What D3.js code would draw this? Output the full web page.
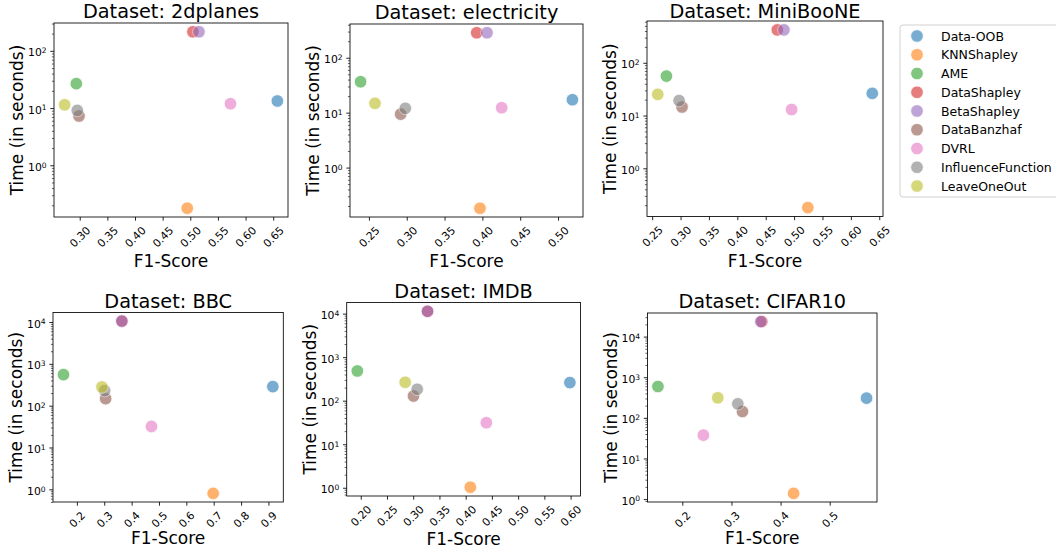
<!DOCTYPE html>
<html>
<head>
<meta charset="utf-8">
<script src="https://cdn.jsdelivr.net/npm/d3@7"></script>
<style>
  html, body { margin: 0; padding: 0; background: #ffffff; }
  svg { display: block; font-family: "DejaVu Sans", sans-serif; }
</style>
</head>
<body>
<svg id="chart" width="1056" height="550"></svg>
<script>
// ---------- data ----------
const methods = ["Data-OOB", "KNNShapley", "AME", "DataShapley", "BetaShapley",
                 "DataBanzhaf", "DVRL", "InfluenceFunction", "LeaveOneOut"];
const colors = ["#1f77b4", "#ff7f0e", "#2ca02c", "#d62728", "#9467bd",
                "#8c564b", "#e377c2", "#7f7f7f", "#bcbd22"];
const datasets = ["2dplanes", "electricity", "MiniBooNE", "BBC", "IMDB", "CIFAR10"];

const f1_2dplanes    = [0.6575, 0.4945, 0.2938, 0.5047, 0.5157, 0.2987, 0.5727, 0.2956, 0.2727];
const time_2dplanes  = [13.3, 0.178, 26.7, 215, 215, 7.25, 11.9, 9.1, 11.4];
const f1_electricity   = [0.519, 0.3968, 0.239, 0.3925, 0.4061, 0.292, 0.4255, 0.2981, 0.258];
const time_electricity = [17.2, 0.182, 36.6, 285, 285, 9.4, 12.3, 12.0, 14.8];
const f1_miniboone   = [0.6377, 0.5242, 0.2751, 0.4704, 0.4821, 0.3026, 0.4956, 0.2974, 0.2598];
const time_miniboone = [26.3, 0.18, 55.9, 420, 420, 14.5, 13.0, 19.2, 25.2];
const f1_bbc   = [0.916, 0.698, 0.151, 0.365, 0.364, 0.305, 0.4725, 0.3015, 0.2916];
const time_bbc = [285, 0.80, 552, 10500, 10500, 147, 31.9, 229, 280];
const f1_imdb   = [0.5986, 0.4089, 0.1935, 0.3273, 0.3273, 0.3005, 0.4394, 0.3076, 0.2847];
const time_imdb = [260, 1.03, 482, 11300, 11300, 128, 31.2, 183, 265];
const f1_cifar10   = [0.575, 0.4265, 0.1504, 0.362, 0.3597, 0.3224, 0.2429, 0.313, 0.2722];
const time_cifar10 = [305, 1.38, 590, 23400, 23400, 143, 37.5, 221, 311];

const xTicks_2dplanes    = [0.30, 0.35, 0.40, 0.45, 0.50, 0.55, 0.60, 0.65];
const xTicks_electricity = [0.25, 0.30, 0.35, 0.40, 0.45, 0.50];
const xTicks_miniboone   = [0.25, 0.30, 0.35, 0.40, 0.45, 0.50, 0.55, 0.60, 0.65];
const xTicks_bbc         = [0.2, 0.3, 0.4, 0.5, 0.6, 0.7, 0.8, 0.9];
const xTicks_imdb        = [0.20, 0.25, 0.30, 0.35, 0.40, 0.45, 0.50, 0.55, 0.60];
const xTicks_cifar10     = [0.2, 0.3, 0.4, 0.5];
const xTickDecimals      = [2, 2, 2, 1, 2, 1];

const f1Data   = [f1_2dplanes, f1_electricity, f1_miniboone, f1_bbc, f1_imdb, f1_cifar10];
const timeData = [time_2dplanes, time_electricity, time_miniboone, time_bbc, time_imdb, time_cifar10];
const xTickData = [xTicks_2dplanes, xTicks_electricity, xTicks_miniboone, xTicks_bbc, xTicks_imdb, xTicks_cifar10];

// ---------- layout (pixels) ----------
const panels = [
  {l: 54,    t: 23,    r: 288,   b: 217,   xlab: 267},
  {l: 350,   t: 24,    r: 583,   b: 217,   xlab: 267},
  {l: 647,   t: 21,    r: 883,   b: 216.5, xlab: 267},
  {l: 53,    t: 312.5, r: 283.3, b: 502,   xlab: 544},
  {l: 346.7, t: 302.5, r: 580.5, b: 496,   xlab: 545},
  {l: 647.5, t: 313,   r: 877,   b: 502,   xlab: 544}
];

const svg = d3.select("#chart");
const tickFont = 10.8, labelFont = 17, titleFont = 19.3;
const tickLen = 3.7, tickPad = 3.7;

panels.forEach((p, i) => {
  const f1 = f1Data[i], tm = timeData[i];
  const w = p.r - p.l, h = p.b - p.t;
  const g = svg.append("g").attr("transform", `translate(${p.l},${p.t})`);

  const xmin = d3.min(f1), xmax = d3.max(f1), xr = xmax - xmin;
  const x = d3.scaleLinear().domain([xmin - 0.05 * xr, xmax + 0.05 * xr]).range([0, w]);
  const lmin = Math.log10(d3.min(tm)), lmax = Math.log10(d3.max(tm)), lr = lmax - lmin;
  const y = d3.scaleLog().domain([Math.pow(10, lmin - 0.05 * lr), Math.pow(10, lmax + 0.05 * lr)]).range([h, 0]);

  // x axis
  const dec = xTickDecimals[i];
  const xa = g.append("g").attr("transform", `translate(0,${h})`)
    .call(d3.axisBottom(x).tickValues(xTickData[i]).tickSize(tickLen).tickPadding(tickPad)
      .tickFormat(d => d.toFixed(dec)));
  xa.select(".domain").remove();
  xa.selectAll(".tick line").attr("stroke", "#000").attr("stroke-width", 0.85);
  xa.selectAll(".tick text")
    .attr("fill", "#000").attr("font-size", tickFont).attr("font-family", "DejaVu Sans")
    .attr("y", null).attr("dy", null)
    .attr("text-anchor", "middle").attr("dominant-baseline", "central")
    .each(function () {
      const tw = this.getComputedTextLength();
      const half = (tw + tickFont * 1.1) * 0.7071 / 2;
      d3.select(this).attr("transform", `translate(0,${tickLen + tickPad + half}) rotate(-45)`);
    });

  // y axis: decades
  const lo = Math.ceil(lmin - 0.05 * lr - 1e-9), hi = Math.floor(lmax + 0.05 * lr + 1e-9);
  const majors = d3.range(lo, hi + 1).map(k => Math.pow(10, k));
  const minors = [];
  for (let k = lo - 1; k <= hi; k++) for (let m = 2; m <= 9; m++) {
    const v = m * Math.pow(10, k);
    if (v >= y.domain()[0] && v <= y.domain()[1]) minors.push(v);
  }
  const ymin = g.append("g").call(d3.axisLeft(y).tickValues(minors).tickSize(2.1).tickFormat(() => ""));
  ymin.select(".domain").remove();
  ymin.selectAll(".tick line").attr("stroke", "#000").attr("stroke-width", 0.6);

  const ya = g.append("g").call(d3.axisLeft(y).tickValues(majors).tickSize(tickLen).tickFormat(() => ""));
  ya.select(".domain").remove();
  ya.selectAll(".tick line").attr("stroke", "#000").attr("stroke-width", 0.85);
  ya.selectAll(".tick").each(function (d) {
    const t = d3.select(this).append("text")
      .attr("x", -(tickLen + tickPad)).attr("dy", "0.47em")
      .attr("text-anchor", "end").attr("fill", "#000")
      .attr("font-size", tickFont).attr("font-family", "DejaVu Sans");
    t.append("tspan").text("10");
    t.append("tspan").attr("dy", "-0.42em").attr("font-size", "0.7em")
      .text(Math.round(Math.log10(d)));
  });

  // points
  const pts = g.append("g");
  f1.forEach((v, j) => {
    pts.append("circle")
      .attr("cx", x(v)).attr("cy", y(tm[j])).attr("r", 6.3)
      .attr("fill", colors[j]).attr("stroke", "#ffffff").attr("stroke-width", 0.8)
      .attr("opacity", 0.6);
  });

  // spines
  g.append("rect").attr("x", 0).attr("y", 0).attr("width", w).attr("height", h)
    .attr("fill", "none").attr("stroke", "#000").attr("stroke-width", 0.85);

  // title
  const titleBase = Math.max(p.t - 5, 17.5) - p.t;
  g.append("text").attr("x", w / 2).attr("y", titleBase)
    .attr("text-anchor", "middle").attr("font-size", titleFont).attr("fill", "#000")
    .text("Dataset: " + datasets[i]);

  // axis labels
  svg.append("text").attr("x", p.l + w / 2).attr("y", p.xlab)
    .attr("text-anchor", "middle").attr("font-size", labelFont).attr("fill", "#000")
    .text("F1-Score");
  svg.append("text")
    .attr("transform", `translate(${p.l - 37},${p.t + h / 2}) rotate(-90)`)
    .attr("text-anchor", "middle").attr("dominant-baseline", "central")
    .attr("font-size", labelFont).attr("fill", "#000")
    .text("Time (in seconds)");
});

// legend
const lg = svg.append("g");
lg.append("rect").attr("x", 900).attr("y", 25).attr("width", 180).attr("height", 172)
  .attr("rx", 3).attr("fill", "#ffffff").attr("fill-opacity", 0.8)
  .attr("stroke", "#cccccc").attr("stroke-width", 0.9);
methods.forEach((m, j) => {
  const cy = 36 + j * 18.75;
  lg.append("circle").attr("cx", 917).attr("cy", cy).attr("r", 6.3)
    .attr("fill", colors[j]).attr("stroke", "#ffffff").attr("stroke-width", 0.8).attr("opacity", 0.6);
  lg.append("text").attr("x", 941).attr("y", cy).attr("dominant-baseline", "central")
    .attr("font-size", 12.5).attr("fill", "#000").text(m);
});
</script>
</body>
</html>
